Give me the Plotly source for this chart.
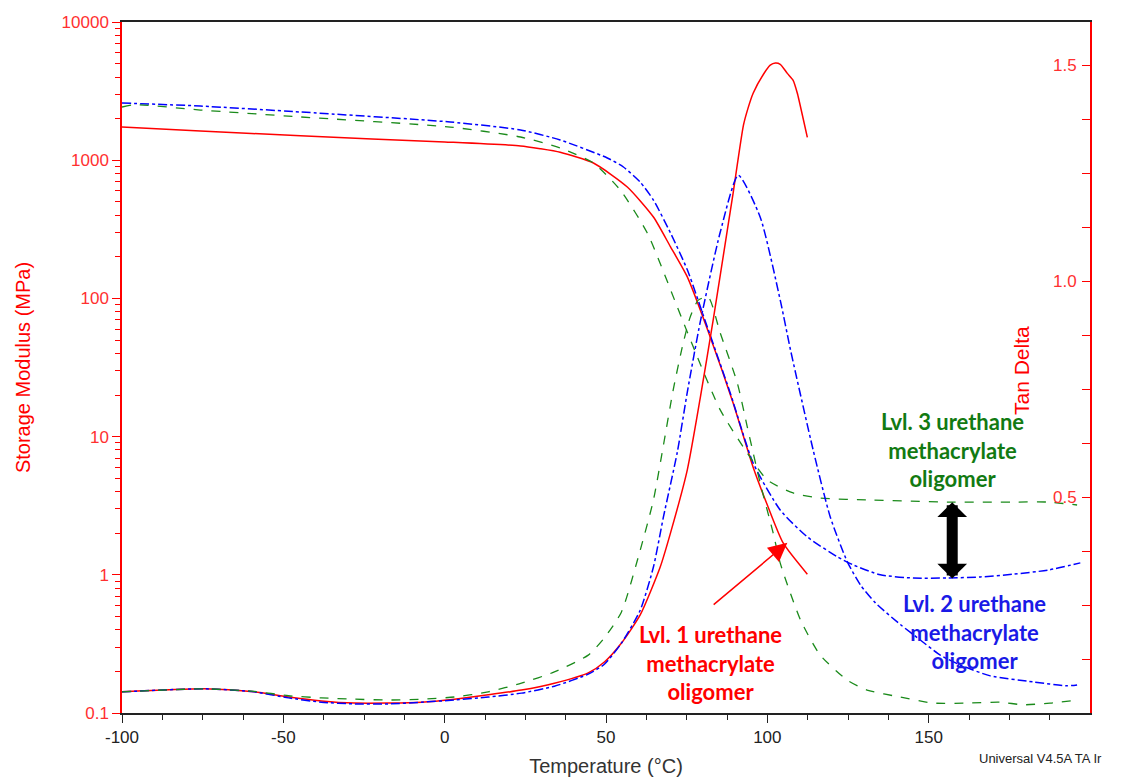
import plotly.graph_objects as go

# ---------------- data ----------------
# Storage modulus E' (MPa) vs temperature (°C)
lvl1_E_T = [-100, -75.7, -44.7, 0, 23.5, 29.6, 35.8, 46.1, 56.6, 64.7, 70.0, 75.2, 82.3, 89.4, 95.6, 100.0, 104.9, 112.4]
lvl1_E = [1740, 1630, 1500, 1355, 1268, 1210, 1140, 954, 640, 388, 236, 143, 52.6, 17.5, 6.0, 3.2, 1.70, 1.01]

lvl2_E_T = [-100, -75.7, -44.7, 1.7, 23.5, 35.8, 50.4, 55.4, 60.6, 64.7, 70.0, 75.2, 81.4, 88.5, 95.6, 104.0, 112.4,
            121.7, 126.6, 135.0, 145.2, 155.8, 166.0, 176.2, 186.8, 197.0]
lvl2_E = [2594, 2466, 2233, 1890, 1655, 1400, 1038, 893, 695, 515, 297, 161, 62.1, 20.7, 6.44, 2.94, 1.88,
          1.35, 1.18, 1.00, 0.948, 0.948, 0.965, 1.01, 1.08, 1.22]

lvl3_E_T = [-100, -96, -75.7, -44.7, 1.7, 23.5, 35.8, 46.1, 54.4, 62.8, 72.1, 78.3, 85.4, 93.8, 100.0, 108.0,
            116.4, 131.9, 155.8, 176.2, 186.8, 196.0]
lvl3_E = [2426, 2520, 2307, 2056, 1738, 1472, 1226, 954, 609, 297, 86.7, 37.7, 15.6, 7.60, 4.85, 3.91,
          3.59, 3.48, 3.36, 3.36, 3.36, 3.20]

# Tan delta vs temperature (°C)
lvl1_tan_T = [-100, -74.4, -59.0, -48.4, -38.2, -28.0, -17.4, -7.2, 3.0, 13.5, 23.8, 34.0, 44.5, 49.5, 54.8,
              60.6, 66.8, 70.0, 75.2, 79.2, 83.3, 87.6, 89.4, 92.6, 94.0, 95.6, 98.8, 100.9, 102.5, 104.0,
              106.2, 108.0, 109.3, 111.2, 112.4]
lvl1_tan = [0.049, 0.056, 0.049, 0.037, 0.028, 0.023, 0.023, 0.025, 0.032, 0.042, 0.053, 0.069, 0.093, 0.118,
            0.162, 0.227, 0.338, 0.417, 0.563, 0.729, 0.914, 1.118, 1.204, 1.361, 1.400, 1.435, 1.479, 1.500,
            1.505, 1.502, 1.481, 1.465, 1.435, 1.373, 1.333]

lvl2_tan_T = [-100, -74.4, -59.0, -48.4, -38.2, -28.0, -17.4, -7.2, 3.0, 13.5, 23.8, 34.0, 44.5, 49.5, 54.8,
              60.6, 64.7, 67.8, 72.1, 75.2, 79.2, 85.4, 91.0, 97.8, 104.0, 107.2, 114.2, 119.5, 124.8, 129.0,
              133.5, 141.2, 147.4, 153.6, 159.8, 169.1, 182.4, 192.9, 196.0]
lvl2_tan = [0.049, 0.056, 0.049, 0.035, 0.025, 0.021, 0.021, 0.025, 0.030, 0.037, 0.046, 0.062, 0.090, 0.113,
            0.162, 0.238, 0.338, 0.454, 0.604, 0.743, 0.905, 1.113, 1.245, 1.148, 0.956, 0.840, 0.609, 0.454,
            0.350, 0.295, 0.255, 0.205, 0.169, 0.134, 0.111, 0.086, 0.072, 0.063, 0.065]

lvl3_tan_T = [-100, -74.4, -59.0, -48.4, -38.2, -28.0, -17.4, -7.2, 3.0, 13.5, 23.8, 34.0, 44.5, 49.5, 54.8,
              60.6, 64.7, 67.8, 70.8, 73.9, 76.1, 78.6, 81.7, 85.4, 90.7, 93.8, 97.8, 101.8, 104.0, 110.3,
              116.4, 124.8, 130.9, 141.2, 151.4, 162.0, 172.2, 179.3, 187.6, 196.0]
lvl3_tan = [0.049, 0.056, 0.050, 0.040, 0.035, 0.032, 0.030, 0.032, 0.037, 0.049, 0.069, 0.095, 0.134, 0.174,
            0.234, 0.377, 0.493, 0.620, 0.747, 0.856, 0.917, 0.956, 0.963, 0.880, 0.764, 0.662, 0.532, 0.417,
            0.347, 0.215, 0.134, 0.076, 0.053, 0.037, 0.023, 0.023, 0.025, 0.019, 0.023, 0.030]

x_ticks = [-100, -50, 0, 50, 100, 150, 200]
x_ticktext = ["-100", "-50", "0", "50", "100", "150", "200"]
x_minor = [-100 + 12.5 * i for i in range(25)]
E_ticks = [0.1, 1, 10, 100, 1000, 10000]
E_ticktext = ["0.1", "1", "10", "100", "1000", "10000"]
E_minor = [m * 10 ** d for d in range(-1, 4) for m in range(2, 10)]
tan_ticks = [0.125 * i for i in range(13)]
tan_labels = {0.5: "0.5", 1.0: "1.0", 1.5: "1.5"}
tan_ticktext = [tan_labels.get(v, "") for v in tan_ticks]

RED = "#ff0000"
BLUE = "#0000ff"
GREEN = "#1a8a1a"

fig = go.Figure()
line_kw = dict(shape="spline", smoothing=0.6)
fig.add_trace(go.Scatter(x=lvl1_E_T, y=lvl1_E, mode="lines", line=dict(color=RED, width=1.5, **line_kw), yaxis="y"))
fig.add_trace(go.Scatter(x=lvl2_E_T, y=lvl2_E, mode="lines", line=dict(color=BLUE, width=1.5, dash="dashdot", **line_kw), yaxis="y"))
fig.add_trace(go.Scatter(x=lvl3_E_T, y=lvl3_E, mode="lines", line=dict(color=GREEN, width=1.3, dash="dash", **line_kw), yaxis="y"))
fig.add_trace(go.Scatter(x=lvl1_tan_T, y=lvl1_tan, mode="lines", line=dict(color=RED, width=1.5, **line_kw), yaxis="y2"))
fig.add_trace(go.Scatter(x=lvl2_tan_T, y=lvl2_tan, mode="lines", line=dict(color=BLUE, width=1.5, dash="dashdot", **line_kw), yaxis="y2"))
fig.add_trace(go.Scatter(x=lvl3_tan_T, y=lvl3_tan, mode="lines", line=dict(color=GREEN, width=1.3, dash="dash", **line_kw), yaxis="y2"))

AXFONT = "Liberation Sans, Arial, sans-serif"
LABFONT = "Lato, Open Sans, sans-serif"

fig.update_layout(
    width=1123, height=777,
    margin=dict(l=122, r=33, t=22, b=64, autoexpand=False),
    paper_bgcolor="white", plot_bgcolor="white",
    showlegend=False,
    xaxis=dict(
        range=[-100, 200], tickvals=x_ticks, ticktext=x_ticktext, ticks="outside", ticklen=8, tickcolor="#222",
        showline=True, linecolor="#222", linewidth=1.5, mirror=True, showgrid=False, zeroline=False,
        automargin=False,
        tickfont=dict(family=AXFONT, size=17, color="#222"),
        minor=dict(tickvals=x_minor, ticks="outside", ticklen=5, tickcolor="#222"),
        title=dict(text="Temperature (°C)", font=dict(family=AXFONT, size=20, color="#333"), standoff=14),
    ),
    yaxis=dict(
        type="log", range=[-1, 4], tickvals=E_ticks, ticktext=E_ticktext, ticks="outside", ticklen=8,
        tickcolor=RED, showline=True, linecolor=RED, linewidth=1.5, showgrid=False, zeroline=False,
        automargin=False,
        tickfont=dict(family=AXFONT, size=17, color="#ff3030"),
        minor=dict(tickvals=E_minor, ticks="outside", ticklen=5, tickcolor=RED),
        title=dict(text="Storage Modulus (MPa)", font=dict(family=AXFONT, size=20, color=RED), standoff=26),
    ),
    yaxis2=dict(
        overlaying="y", side="right", range=[0, 1.6], tickvals=tan_ticks, ticktext=tan_ticktext,
        ticks="inside", ticklen=8, tickcolor=RED, ticklabelposition="inside", ticklabelstandoff=6,
        showline=True, linecolor=RED, linewidth=1.5, showgrid=False, zeroline=False, automargin=False,
        tickfont=dict(family=AXFONT, size=17, color="#ff3030"),
    ),
)

annotations = [
    dict(text="Tan Delta", xref="paper", yref="paper", x=(1022 - 122) / 968, y=(713 - 371) / 691,
         xanchor="center", yanchor="middle",
         textangle=-90, showarrow=False, font=dict(family=AXFONT, size=21, color=RED)),
    dict(text="Universal V4.5A TA Ir", xref="paper", yref="paper", x=(977 - 122) / 968, y=(713 - 758) / 691,
         xanchor="left", yanchor="middle", showarrow=False, font=dict(family=AXFONT, size=13, color="#222")),
    dict(text="<b>Lvl. 1 urethane<br>methacrylate<br>oligomer</b>", xref="x", yref="y2", x=82.3, y=0.116,
         showarrow=False, font=dict(family=LABFONT, size=22, color=RED)),
    dict(text="<b>Lvl. 3 urethane<br>methacrylate<br>oligomer</b>", xref="x", yref="y2", x=157.3, y=0.609,
         showarrow=False, font=dict(family=LABFONT, size=22, color="#127a12")),
    dict(text="<b>Lvl. 2 urethane<br>methacrylate<br>oligomer</b>", xref="x", yref="y2", x=164.1, y=0.1875,
         showarrow=False, font=dict(family=LABFONT, size=22, color="#1a1ae6")),
    dict(text="", xref="x", yref="y2", x=106.2, y=0.394, axref="x", ayref="y2", ax=82.9, ay=0.248,
         showarrow=True, arrowhead=2, arrowsize=2.5, arrowwidth=1.5, arrowcolor=RED),
    dict(text="", xref="x", yref="y2", x=157.3, y=0.488, axref="x", ayref="y2", ax=157.3, ay=0.308,
         showarrow=True, arrowhead=1, arrowside="end+start", arrowsize=0.45, arrowwidth=11, arrowcolor="black"),
]
fig.update_layout(annotations=annotations)

fig.write_html("out.html")
